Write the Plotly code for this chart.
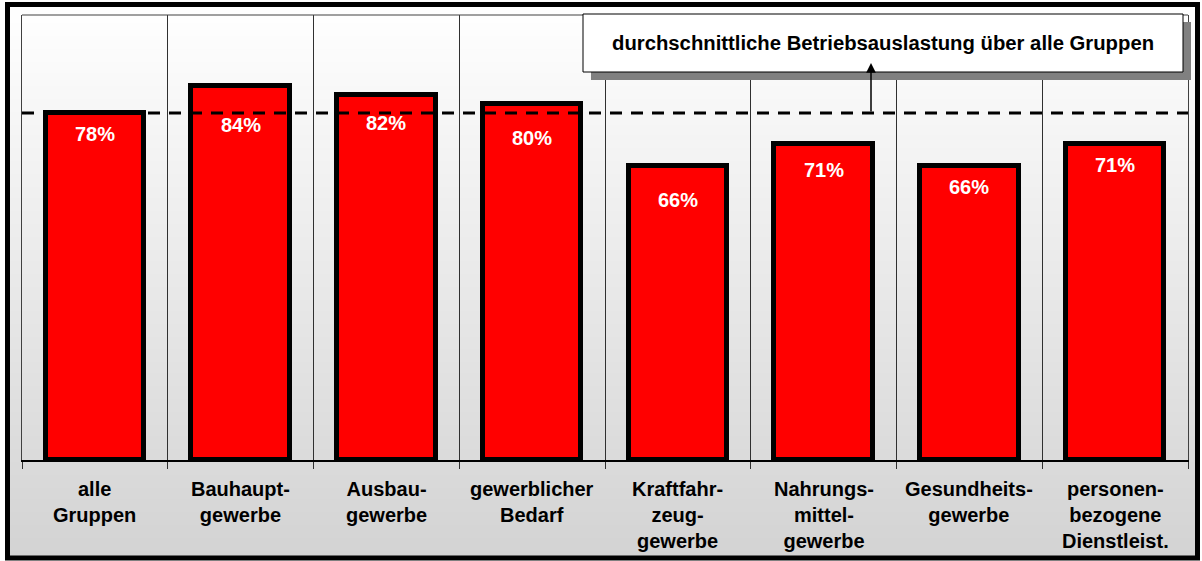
import base64
import struct
import zlib

import plotly.graph_objects as go

# --- data -----------------------------------------------------------------
gruppen = [
    "alle<br>Gruppen",
    "Bauhaupt-<br>gewerbe",
    "Ausbau-<br>gewerbe",
    "gewerblicher<br>Bedarf",
    "Kraftfahr-<br>zeug-<br>gewerbe",
    "Nahrungs-<br>mittel-<br>gewerbe",
    "Gesundheits-<br>gewerbe",
    "personen-<br>bezogene<br>Dienstleist.",
]
auslastung = [78, 84, 82, 80, 66, 71, 66, 71]   # Betriebsauslastung in %
durchschnitt = auslastung[0]                      # alle Gruppen = Durchschnitt
hinweis = "durchschnittliche Betriebsauslastung über alle Gruppen"

# --- layout geometry (pixels) ----------------------------------------------
FIG_W, FIG_H = 1202, 561
L, R, T, B = 22, 14, 15, 101
PW, PH = FIG_W - L - R, FIG_H - T - B

# label distance below bar top (px), per bar
label_drop = [21, 39, 28, 34, 34, 26, 21, 21]

FONT = "Liberation Sans, Arial, sans-serif"


def px_x(px):
    return (px - L) / PW


def px_y(py):
    return (FIG_H - B - py) / PH


def gradient_png(h, top, bottom):
    rows = b""
    for i in range(h):
        v = round(top + (bottom - top) * i / (h - 1))
        rows += b"\x00" + bytes([v, v, v] * 4)

    def chunk(tag, data):
        c = struct.pack(">I", len(data)) + tag + data
        return c + struct.pack(">I", zlib.crc32(tag + data) & 0xFFFFFFFF)

    png = (b"\x89PNG\r\n\x1a\n"
           + chunk(b"IHDR", struct.pack(">IIBBBBB", 4, h, 8, 2, 0, 0, 0))
           + chunk(b"IDAT", zlib.compress(rows))
           + chunk(b"IEND", b""))
    return "data:image/png;base64," + base64.b64encode(png).decode()


n = len(auslastung)
xs = list(range(n))
grenzen = [i - 0.5 for i in range(n + 1)]

fig = go.Figure()

fig.add_trace(go.Bar(
    x=xs, y=auslastung, width=0.675,
    marker=dict(color="#ff0000", line=dict(color="black", width=5)),
    hoverinfo="skip", showlegend=False,
))

# dashed average line across the whole plot
fig.add_trace(go.Scatter(
    x=[grenzen[0], grenzen[-1]], y=[durchschnitt, durchschnitt],
    mode="lines", line=dict(color="black", width=3, dash="12px,9px"),
    hoverinfo="skip", showlegend=False, cliponaxis=False,
))

annotations = []
for i, v in enumerate(auslastung):
    annotations.append(dict(
        x=i, y=v, xref="x", yref="y", text=f"{v}%", showarrow=False,
        yanchor="middle", yshift=-label_drop[i],
        font=dict(family=FONT, size=20, color="white", weight="bold"),
    ))
for i, g in enumerate(gruppen):
    annotations.append(dict(
        x=i, y=px_y(476), xref="x", yref="paper", text=g, showarrow=False,
        yanchor="top", align="center",
        font=dict(family=FONT, size=20, color="black", weight="bold"),
    ))

# callout box
box_l, box_r, box_t, box_b = 583, 1183, 14, 72
shadow = 8
annotations.append(dict(
    x=px_x((box_l + box_r) / 2), y=px_y((box_t + box_b) / 2),
    xref="paper", yref="paper", text=hinweis, showarrow=False,
    xanchor="center", yanchor="middle",
    font=dict(family=FONT, size=20.3, color="black", weight="bold"),
))
arrow_x = (871 - L) / (PW / n) - 0.5
annotations.append(dict(
    x=arrow_x, y=px_y(63) * 100, xref="x", yref="y",
    ax=arrow_x, ay=durchschnitt, axref="x", ayref="y",
    text="", showarrow=True, arrowhead=2, arrowsize=1.3, arrowwidth=1.5,
    arrowcolor="black",
))

shapes = [
    # plot area top border
    dict(type="line", xref="paper", yref="paper", x0=0, x1=1, y0=1, y1=1,
         line=dict(color="#404040", width=1)),
    # callout shadow and box
    dict(type="rect", xref="paper", yref="paper", layer="above",
         x0=px_x(box_l + shadow), x1=px_x(box_r + shadow),
         y0=px_y(box_t + shadow), y1=px_y(box_b + shadow),
         fillcolor="#808080", line=dict(width=0)),
    dict(type="rect", xref="paper", yref="paper", layer="above",
         x0=px_x(box_l), x1=px_x(box_r), y0=px_y(box_t), y1=px_y(box_b),
         fillcolor="white", line=dict(color="black", width=1)),
    # outer chart frame
    dict(type="rect", xref="paper", yref="paper", layer="above",
         x0=px_x(7.5), x1=px_x(1197.5), y0=px_y(4.5), y1=px_y(558),
         line=dict(color="black", width=5)),
]

fig.update_layout(
    width=FIG_W, height=FIG_H,
    margin=dict(l=L, r=R, t=T, b=B, pad=0),
    paper_bgcolor="white", plot_bgcolor="rgba(0,0,0,0)",
    bargap=0, showlegend=False,
    annotations=annotations, shapes=shapes,
    images=[dict(
        source=gradient_png(256, 255, 211),
        xref="paper", yref="paper", x=px_x(7.5), y=px_y(4.5),
        sizex=px_x(1197.5) - px_x(7.5), sizey=px_y(4.5) - px_y(558),
        xanchor="left", yanchor="top", sizing="stretch", layer="below",
    )],
    xaxis=dict(
        range=[grenzen[0], grenzen[-1]], tickvals=grenzen,
        showticklabels=False, ticks="outside", ticklen=7, tickwidth=1,
        tickcolor="#303030", showgrid=True, gridcolor="#303030", gridwidth=1,
        showline=True, linecolor="black", linewidth=2, zeroline=False,
        fixedrange=True,
    ),
    yaxis=dict(
        range=[0, 100], showticklabels=False, showgrid=False, zeroline=False,
        showline=True, mirror=True, linecolor="#404040", linewidth=1,
        ticks="", fixedrange=True,
    ),
)

fig.write_html("out.html", config={"displayModeBar": False})
